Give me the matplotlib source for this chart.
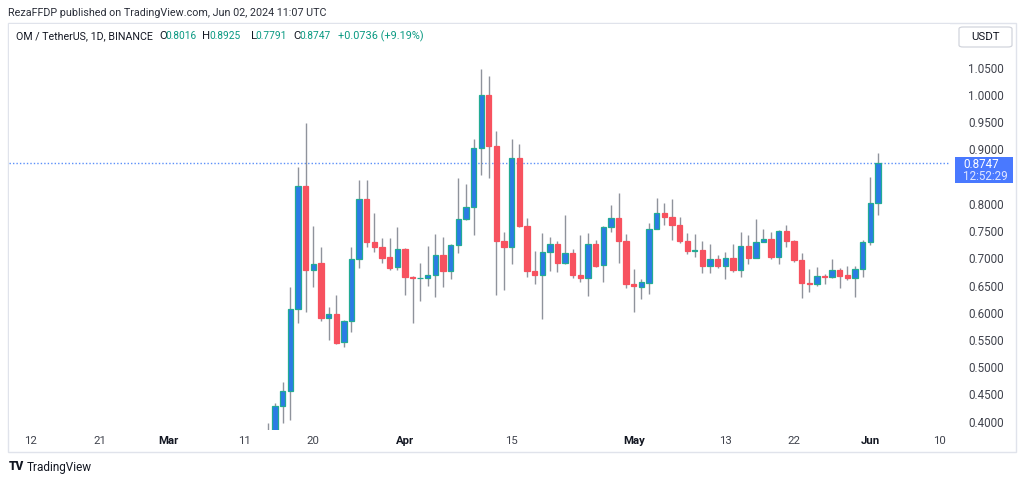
import matplotlib
matplotlib.use("Agg")
import matplotlib.pyplot as plt
from matplotlib.patches import Rectangle, FancyBboxPatch
import pandas as pd
import numpy as np

plt.rcParams['font.family'] = ['Roboto', 'DejaVu Sans']

# ---------------- data ----------------
dates = pd.date_range("2024-03-14", "2024-06-02", freq="D")
opens = [0.355, 0.383, 0.429, 0.456, 0.607, 0.832, 0.679, 0.692, 0.590, 0.597, 0.547, 0.585, 0.698, 0.808, 0.729, 0.721,
         0.703, 0.684, 0.717, 0.666, 0.663, 0.663, 0.669, 0.706, 0.677, 0.724, 0.772, 0.795, 0.902, 1.000, 0.907, 0.731,
         0.720, 0.885, 0.759, 0.677, 0.670, 0.711, 0.727, 0.692, 0.710, 0.670, 0.664, 0.726, 0.687, 0.758, 0.774, 0.731,
         0.652, 0.648, 0.655, 0.754, 0.784, 0.775, 0.762, 0.732, 0.713, 0.715, 0.686, 0.699, 0.686, 0.701, 0.679, 0.723,
         0.701, 0.730, 0.736, 0.703, 0.750, 0.732, 0.697, 0.655, 0.652, 0.667, 0.6665, 0.678, 0.669, 0.663, 0.680, 0.729,
         0.8016]
highs = [0.397, 0.435, 0.473, 0.647, 0.867, 0.949, 0.759, 0.721, 0.610, 0.632, 0.587, 0.721, 0.844, 0.844, 0.783, 0.737,
         0.738, 0.758, 0.719, 0.668, 0.691, 0.723, 0.745, 0.740, 0.726, 0.847, 0.836, 0.919, 1.047, 1.035, 0.933, 0.748,
         0.919, 0.910, 0.774, 0.714, 0.746, 0.739, 0.732, 0.779, 0.717, 0.743, 0.746, 0.734, 0.759, 0.798, 0.819, 0.745,
         0.680, 0.662, 0.764, 0.811, 0.801, 0.808, 0.775, 0.746, 0.745, 0.732, 0.726, 0.706, 0.712, 0.726, 0.748, 0.743,
         0.772, 0.754, 0.748, 0.752, 0.761, 0.734, 0.710, 0.681, 0.684, 0.672, 0.698, 0.683, 0.685, 0.686, 0.734, 0.849,
         0.8925]
lows = [0.345, 0.372, 0.398, 0.403, 0.582, 0.602, 0.648, 0.585, 0.550, 0.543, 0.537, 0.565, 0.682, 0.721, 0.712, 0.691,
        0.679, 0.679, 0.633, 0.581, 0.622, 0.650, 0.628, 0.648, 0.662, 0.709, 0.770, 0.743, 0.853, 0.848, 0.633, 0.642,
        0.690, 0.757, 0.666, 0.653, 0.589, 0.677, 0.674, 0.690, 0.663, 0.657, 0.631, 0.684, 0.656, 0.749, 0.691, 0.645,
        0.601, 0.625, 0.634, 0.753, 0.761, 0.734, 0.728, 0.708, 0.702, 0.673, 0.673, 0.682, 0.662, 0.675, 0.666, 0.690,
        0.700, 0.729, 0.699, 0.689, 0.720, 0.694, 0.627, 0.638, 0.650, 0.653, 0.663, 0.646, 0.660, 0.628, 0.666, 0.724,
        0.7791]
closes = [0.383, 0.429, 0.457, 0.606, 0.832, 0.679, 0.690, 0.590, 0.597, 0.545, 0.585, 0.698, 0.808, 0.729, 0.720, 0.701,
          0.683, 0.717, 0.666, 0.663, 0.664, 0.669, 0.706, 0.677, 0.724, 0.772, 0.795, 0.902, 1.000, 0.907, 0.731, 0.720,
          0.885, 0.759, 0.677, 0.670, 0.711, 0.727, 0.692, 0.710, 0.670, 0.664, 0.726, 0.686, 0.758, 0.774, 0.731, 0.652,
          0.649, 0.656, 0.754, 0.784, 0.775, 0.762, 0.732, 0.713, 0.714, 0.686, 0.699, 0.686, 0.701, 0.679, 0.723, 0.701,
          0.729, 0.736, 0.703, 0.750, 0.732, 0.697, 0.654, 0.652, 0.667, 0.6665, 0.678, 0.667, 0.663, 0.680, 0.729, 0.8016,
          0.8747]

tick_dates = ["2024-02-12", "2024-02-21", "2024-03-01", "2024-03-11", "2024-03-20", "2024-04-01",
              "2024-04-15", "2024-05-01", "2024-05-13", "2024-05-22", "2024-06-01", "2024-06-10"]
tick_labels = ["12", "21", "Mar", "11", "20", "Apr", "15", "May", "13", "22", "Jun", "10"]
month_labels = {"Mar", "Apr", "May", "Jun"}
price_ticks = [0.40, 0.45, 0.50, 0.55, 0.60, 0.65, 0.70, 0.75, 0.80, 0.90, 0.95, 1.00, 1.05]
last_price = 0.8747
countdown = "12:52:29"
publisher_line = "RezaFFDP published on TradingView.com, Jun 02, 2024 11:07 UTC"
symbol_line = "OM / TetherUS, 1D, BINANCE"
ohlc_parts = [("O", "0.8016"), ("H", "0.8925"), ("L", "0.7791"), ("C", "0.8747")]
change_text = "+0.0736 (+9.19%)"

# ---------------- style ----------------
UP_BODY = "#2b7be6"
UP_EDGE = "#22ab94"
DN_BODY = "#f7525f"
WICK = "#8f939c"
TXT = "#131722"
GREEN = "#089981"
BLUE = "#2962ff"

W, H = 1024, 482
fig = plt.figure(figsize=(W / 100, H / 100), dpi=100)
fig.patch.set_facecolor("white")
renderer = fig.canvas.get_renderer()


def fx(px):
    return px / W


def fy(py):
    return 1 - py / H


def width_px(t):
    return t.get_window_extent(renderer=renderer).width


def put(x, y, s, size, color, target_w=None, **kw):
    t = fig.text(fx(x), fy(y), s, ha="left", va="center", fontsize=size, color=color, **kw)
    if target_w is not None:
        w = width_px(t)
        t.set_fontsize(size * target_w / w)
    return t


ax_l, ax_r, ax_t, ax_b = 9, 950, 24, 430
ax = fig.add_axes([fx(ax_l), fy(ax_b), fx(ax_r - ax_l), fy(ax_t) - fy(ax_b)])
base = pd.Timestamp("2024-02-12")
xs = np.array([(d - base).days for d in dates], dtype=float)

o = np.array(opens); h = np.array(highs); l = np.array(lows); c = np.array(closes)
up = c >= o
ax.vlines(xs, l, h, color=WICK, lw=1.0, zorder=2)
bw = 0.70
body_bottom = np.minimum(o, c)
body_h = np.maximum(np.abs(c - o), 0.0015)
ax.bar(xs[up], body_h[up], bottom=body_bottom[up], width=bw, color=UP_BODY,
       edgecolor=UP_EDGE, linewidth=0.9, zorder=3)
ax.bar(xs[~up], body_h[~up], bottom=body_bottom[~up], width=bw, color=DN_BODY,
       edgecolor=DN_BODY, linewidth=0.9, zorder=3)

ax.set_xlim(-2.883, 120.445)
ax.set_ylim(0.3847, 1.1302)
ax.axhline(last_price, color="#5b8ff9", lw=1.0, ls=(0, (1, 1.5)), zorder=1)

for s in ax.spines.values():
    s.set_visible(False)
ax.set_facecolor("white")

# x ticks
tx = [(pd.Timestamp(t) - base).days for t in tick_dates]
ax.set_xticks(tx)
ax.set_xticklabels(tick_labels)
ax.tick_params(axis="x", length=0, pad=4, labelsize=8.2, labelcolor="#40434d")
for lab in ax.get_xticklabels():
    if lab.get_text() in month_labels:
        lab.set_fontweight("bold")
        lab.set_color(TXT)

# y ticks on right
ax.yaxis.tick_right()
ax.set_yticks(price_ticks)
ax.set_yticklabels([f"{p:.4f}" for p in price_ticks])
ax.tick_params(axis="y", length=0, pad=13, labelsize=8.4, labelcolor="#40434d")

# panel border
fig.add_artist(Rectangle((fx(8), fy(452)), fx(1008), fy(23) - fy(452), transform=fig.transFigure,
                         fill=False, edgecolor="#e0e3eb", lw=1.0, zorder=0))

# USDT box
fig.add_artist(FancyBboxPatch((fx(959), fy(47)), fx(53), fy(27) - fy(47),
                              boxstyle="round,pad=0,rounding_size=0.004", transform=fig.transFigure,
                              fill=False, edgecolor="#d1d4dc", lw=0.9))
fig.text(fx(985.5), fy(37), "USDT", ha="center", va="center", fontsize=8.2, color=TXT)

# last price box
fig.add_artist(Rectangle((fx(955), fy(183)), fx(58), fy(157) - fy(183), transform=fig.transFigure,
                         facecolor=BLUE, edgecolor="none", alpha=0.85))
fig.text(fx(963), fy(165), f"{last_price:.4f}", ha="left", va="center", fontsize=8.4, color="white")
fig.text(fx(963), fy(176), countdown, ha="left", va="center", fontsize=8.4, color="#dfe6ff")

# header lines
put(8, 13, publisher_line, 8.5, "#2a2e39", target_w=315)
hy = 36
put(15.7, hy, symbol_line, 8.5, TXT, target_w=135)
positions = [(159, 165), (202, 209), (251, 255.5), (293, 299)]
for (lx, vx), (letter, val) in zip(positions, ohlc_parts):
    put(lx, hy, letter, 8.2, TXT)
    put(vx, hy, val, 8.5, GREEN, target_w=31)
put(338, hy, change_text, 8.5, GREEN, target_w=85)

# footer logo
fig.text(fx(9), fy(467), "TV", ha="left", va="center", fontsize=8.5, fontweight="heavy", color=TXT)
fig.text(fx(27), fy(467), "TradingView", ha="left", va="center", fontsize=8.5, color=TXT)

fig.savefig("out.png", dpi=100, facecolor="white")
